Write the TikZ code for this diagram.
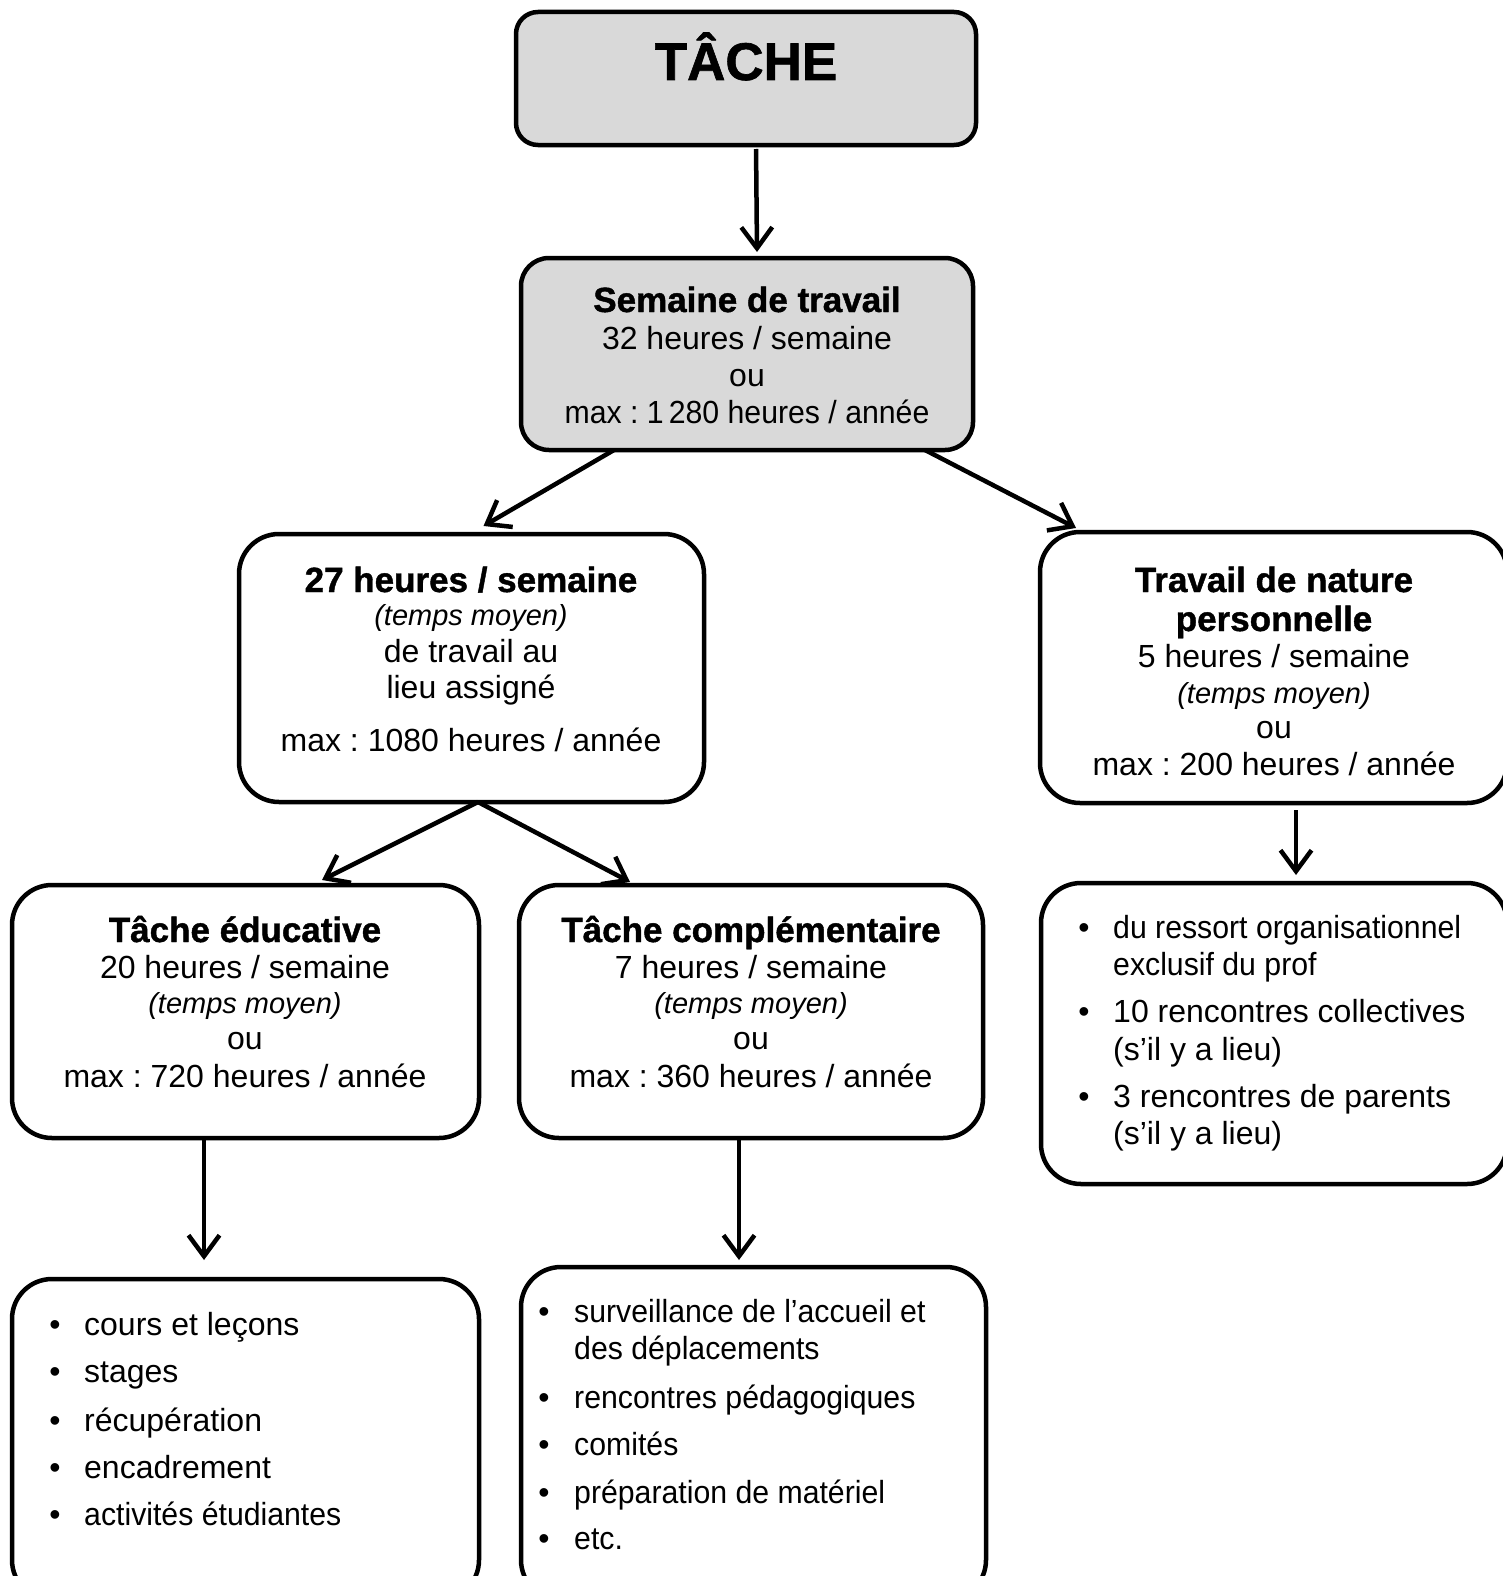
\documentclass[tikz,border=0pt]{standalone}
\usepackage{fontspec}
\usepackage{graphicx}
\setmainfont{Liberation Sans}
\newfontfamily\hbf[FakeBold=1.2]{Liberation Sans Bold}
\usetikzlibrary{arrows.meta}
\definecolor{boxgray}{HTML}{D9D9D9}
\newcommand\szreg{\fontsize{32}{37}\selectfont\frenchspacing}
\newcommand\szbold{\hbf\fontsize{35}{40}\selectfont}
\newcommand\szit{\itshape\fontsize{29}{34}\selectfont}
\newcommand\sztitle{\hbf\fontsize{53}{60}\selectfont}
\newcommand\narrow[1]{\scalebox{0.945}[1]{#1}}
\frenchspacing
\begin{document}
\begin{tikzpicture}[x=1pt,y=-1pt,
 box/.style={draw, line width=4.5pt, rectangle, rounded corners=40pt, inner sep=0pt, outer sep=0pt},
 graybox/.style={box, fill=boxgray, rounded corners=28pt},
 txt/.style={anchor=base, inner sep=0pt, outer sep=0pt, font=\szreg},
 btxt/.style={txt, font=\szbold},
 itxt/.style={txt, font=\szit},
 bul/.style={anchor=base, inner sep=0pt, font=\szreg},
 itm/.style={anchor=base west, inner sep=0pt, font=\szreg},
 arr/.style={line width=4.5pt, -{Straight Barb[length=21pt,width=31pt]}}]
\useasboundingbox (0,0) rectangle (1502,1576);

% boxes
\node[graybox, minimum width=460pt, minimum height=133pt, rounded corners=22pt] (tache) at (746,78.5) {};
\node[graybox, minimum width=452pt, minimum height=192pt] (semaine) at (747,354) {};
\node[box, minimum width=465pt, minimum height=268pt] (h27) at (471.5,668) {};
\node[box, minimum width=467pt, minimum height=271pt] (perso) at (1273.5,667.5) {};
\node[box, minimum width=466pt, minimum height=301pt] (persolist) at (1274,1033.5) {};
\node[box, minimum width=467pt, minimum height=253pt] (educ) at (245.5,1011.5) {};
\node[box, minimum width=464pt, minimum height=253pt] (compl) at (751,1011.5) {};
\node[box, minimum width=467pt, minimum height=321pt] (educlist) at (245.5,1439.5) {};
\node[box, minimum width=465pt, minimum height=333pt] (compllist) at (753.5,1433.5) {};

% title
\node[txt, font=\sztitle] (tacheT) at (746,80) {TÂCHE};

% semaine
\node[btxt] (s1) at (747,312) {Semaine de travail};
\node[txt] (s2) at (747,349) {32 heures / semaine};
\node[txt] (s3) at (747,386) {ou};
\node[txt] (s4) at (747,423) {\narrow{max : 1\,280 heures / année}};

% 27 heures
\node[btxt] (h1) at (471,592) {27 heures / semaine};
\node[itxt] (h2) at (471,625) {(temps moyen)};
\node[txt] (h3) at (471,662) {de travail au};
\node[txt] (h4) at (471,698) {lieu assigné};
\node[txt] (h5) at (471,751) {max : 1080 heures / année};

% perso
\node[btxt] (p1) at (1274,592) {Travail de nature};
\node[btxt] (p2) at (1274,631) {personnelle};
\node[txt] (p3) at (1274,667) {5 heures / semaine};
\node[itxt] (p4) at (1274,703) {(temps moyen)};
\node[txt] (p5) at (1274,738) {ou};
\node[txt] (p6) at (1274,775) {max : 200 heures / année};

% perso list
\node[bul] (pb1) at (1084,938) {•};
\node[itm] (pl1) at (1113,938) {\narrow{du ressort organisationnel}};
\node[itm] (pl1b) at (1113,975) {\narrow{exclusif du prof}};
\node[bul] (pb2) at (1084,1022) {•};
\node[itm] (pl2) at (1113,1022) {10 rencontres collectives};
\node[itm] (pl2b) at (1113,1060) {(s’il y a lieu)};
\node[bul] (pb3) at (1084,1107) {•};
\node[itm] (pl3) at (1113,1107) {3 rencontres de parents};
\node[itm] (pl3b) at (1113,1144) {(s’il y a lieu)};

% educ
\node[btxt] (e1) at (245,942) {Tâche éducative};
\node[txt] (e2) at (245,978) {20 heures / semaine};
\node[itxt] (e3) at (245,1013) {(temps moyen)};
\node[txt] (e4) at (245,1049) {ou};
\node[txt] (e5) at (245,1087) {max : 720 heures / année};

% compl
\node[btxt] (c1) at (751,942) {Tâche complémentaire};
\node[txt] (c2) at (751,978) {7 heures / semaine};
\node[itxt] (c3) at (751,1013) {(temps moyen)};
\node[txt] (c4) at (751,1049) {ou};
\node[txt] (c5) at (751,1087) {max : 360 heures / année};

% educ list
\node[bul] (eb1) at (55,1335) {•};
\node[itm] (el1) at (84,1335) {cours et leçons};
\node[bul] (eb2) at (55,1382) {•};
\node[itm] (el2) at (84,1382) {stages};
\node[bul] (eb3) at (55,1431) {•};
\node[itm] (el3) at (84,1431) {récupération};
\node[bul] (eb4) at (55,1478) {•};
\node[itm] (el4) at (84,1478) {encadrement};
\node[bul] (eb5) at (55,1525) {•};
\node[itm] (el5) at (84,1525) {\narrow{activités étudiantes}};

% compl list
\node[bul] (cb1) at (544,1322) {•};
\node[itm] (cl1) at (574,1322) {\narrow{surveillance de l’accueil et}};
\node[itm] (cl1b) at (574,1359) {\narrow{des déplacements}};
\node[bul] (cb2) at (544,1408) {•};
\node[itm] (cl2) at (574,1408) {\narrow{rencontres pédagogiques}};
\node[bul] (cb3) at (544,1455) {•};
\node[itm] (cl3) at (574,1455) {\narrow{comités}};
\node[bul] (cb4) at (544,1503) {•};
\node[itm] (cl4) at (574,1503) {\narrow{préparation de matériel}};
\node[bul] (cb5) at (544,1549) {•};
\node[itm] (cl5) at (574,1549) {\narrow{etc.}};

% arrows
\draw[arr, shorten <=4pt] ([xshift=10pt]tache.south) -- ([xshift=10pt,yshift=6pt]semaine.north);
\draw[arr] ([xshift=-133pt]semaine.south) -- ([xshift=12pt,yshift=8pt]h27.north);
\draw[arr] ([xshift=178pt]semaine.south) -- ([xshift=-197.5pt,yshift=4pt]perso.north);
\draw[arr] ([xshift=6.5pt]h27.south) -- ([xshift=76.5pt,yshift=5pt]educ.north);
\draw[arr] ([xshift=6.5pt]h27.south) -- ([xshift=-121pt,yshift=3pt]compl.north);
\draw[arr, shorten <=7pt] ([xshift=22.5pt]perso.south) -- ([xshift=22pt,yshift=8pt]persolist.north);
\draw[arr] ([xshift=-41.5pt]educ.south) -- ([xshift=-41.5pt,yshift=19pt]educlist.north);
\draw[arr] ([xshift=-12pt]compl.south) -- ([xshift=-14.5pt,yshift=7pt]compllist.north);
\end{tikzpicture}
\end{document}
